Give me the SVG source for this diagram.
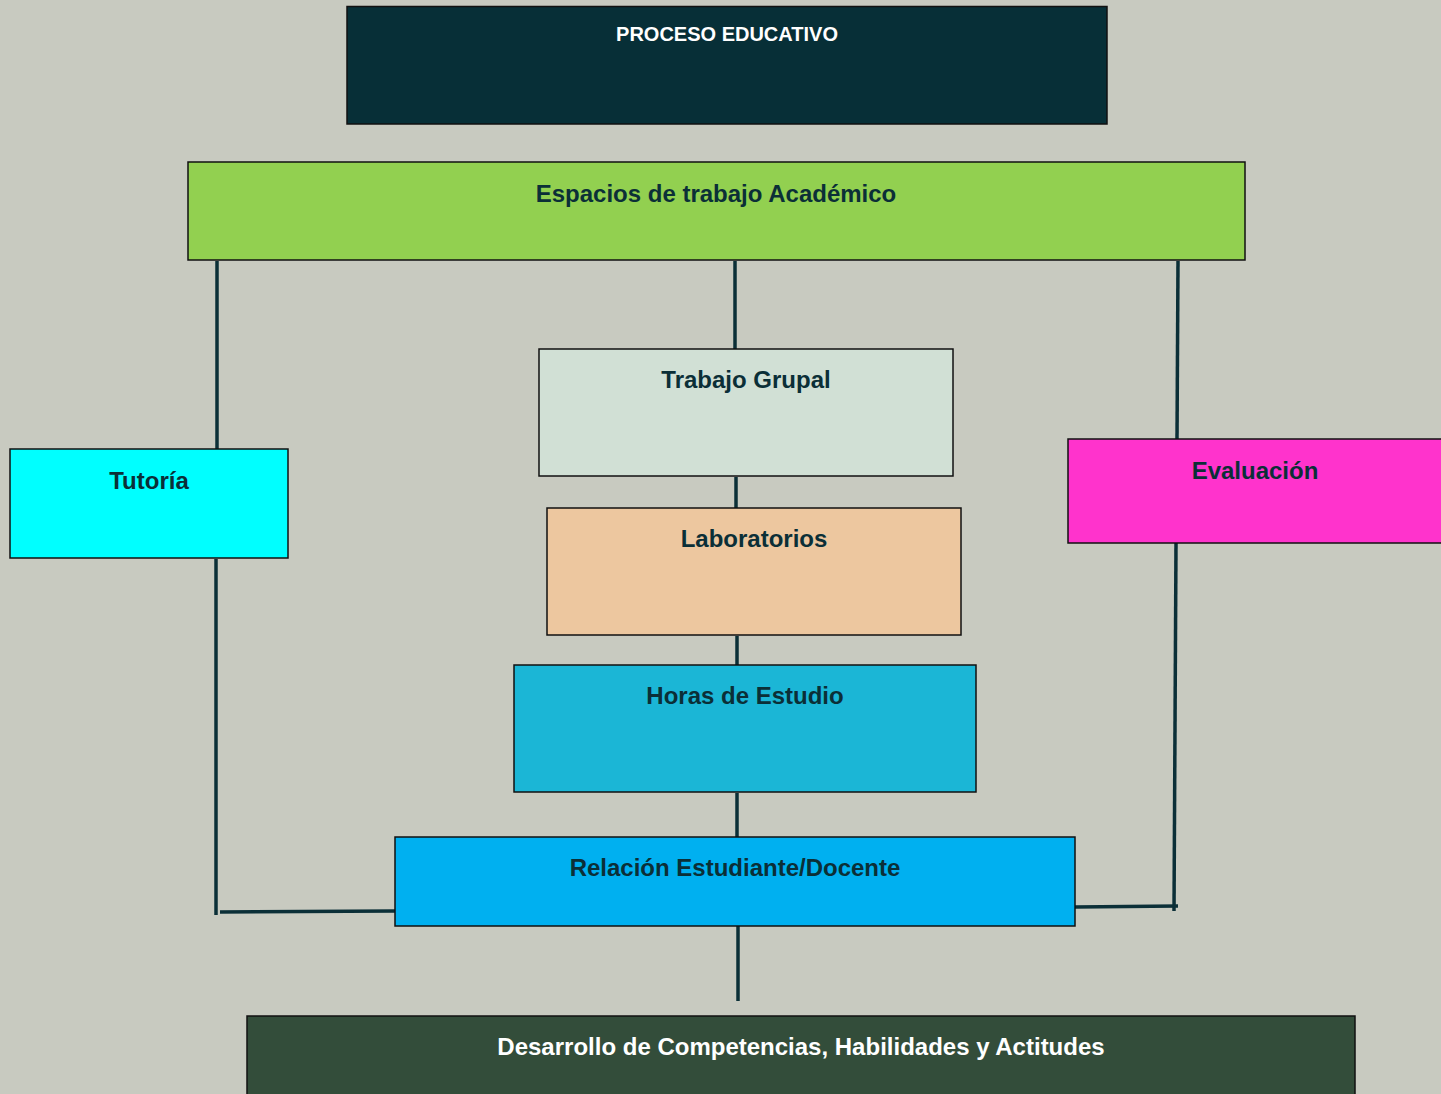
<svg xmlns="http://www.w3.org/2000/svg" width="1441" height="1094" viewBox="0 0 1441 1094">
<style>
.box{stroke:#111;stroke-width:1.5}
.t{font-family:"Liberation Sans",Arial,sans-serif;font-weight:bold;font-size:24px;fill:#0b2f37;text-anchor:middle}
.w{fill:#ffffff}
.c{stroke:#0b2f37;stroke-width:3.5;fill:none}
</style>
<rect width="1441" height="1094" fill="#c8cac0"/>
<g id="connectors">
<line class="c" x1="217" y1="261" x2="217" y2="449"/>
<line class="c" x1="735" y1="261" x2="735" y2="349"/>
<line class="c" x1="1178" y1="261" x2="1177" y2="439"/>
<line class="c" x1="736" y1="477" x2="736" y2="508"/>
<line class="c" x1="737" y1="636" x2="737" y2="665"/>
<line class="c" x1="737" y1="793" x2="737" y2="837"/>
<line class="c" x1="216" y1="559" x2="216" y2="915"/>
<line class="c" x1="220" y1="912" x2="395" y2="911"/>
<line class="c" x1="1176" y1="543" x2="1174" y2="911"/>
<line class="c" x1="1075" y1="907" x2="1178" y2="906"/>
<line class="c" x1="738" y1="926" x2="738" y2="1001"/>
</g>
<g id="proceso">
<rect class="box" x="347" y="6.5" width="760" height="117.5" fill="#072f37"/>
<text class="t w" x="727" y="41" style="font-size:20px">PROCESO EDUCATIVO</text>
</g>
<g id="espacios">
<rect class="box" x="188" y="162" width="1057" height="98" fill="#92d050"/>
<text class="t" x="716" y="202">Espacios de trabajo Académico</text>
</g>
<g id="trabajo">
<rect class="box" x="539" y="349" width="414" height="127" fill="#d1e0d5"/>
<text class="t" x="746" y="388">Trabajo Grupal</text>
</g>
<g id="tutoria">
<rect class="box" x="10" y="449" width="278" height="109" fill="#00ffff"/>
<text class="t" x="149" y="489">Tutoría</text>
</g>
<g id="evaluacion">
<rect class="box" x="1068" y="439" width="380" height="104" fill="#ff33cc"/>
<text class="t" x="1255" y="479">Evaluación</text>
</g>
<g id="laboratorios">
<rect class="box" x="547" y="508" width="414" height="127" fill="#edc79f"/>
<text class="t" x="754" y="547">Laboratorios</text>
</g>
<g id="horas">
<rect class="box" x="514" y="665" width="462" height="127" fill="#1bb6d6"/>
<text class="t" x="745" y="704">Horas de Estudio</text>
</g>
<g id="relacion">
<rect class="box" x="395" y="837" width="680" height="89" fill="#00b0f0"/>
<text class="t" x="735" y="876">Relación Estudiante/Docente</text>
</g>
<g id="desarrollo">
<rect class="box" x="247" y="1016" width="1108" height="90" fill="#334d3a"/>
<text class="t w" x="801" y="1055">Desarrollo de Competencias, Habilidades y Actitudes</text>
</g>
</svg>
